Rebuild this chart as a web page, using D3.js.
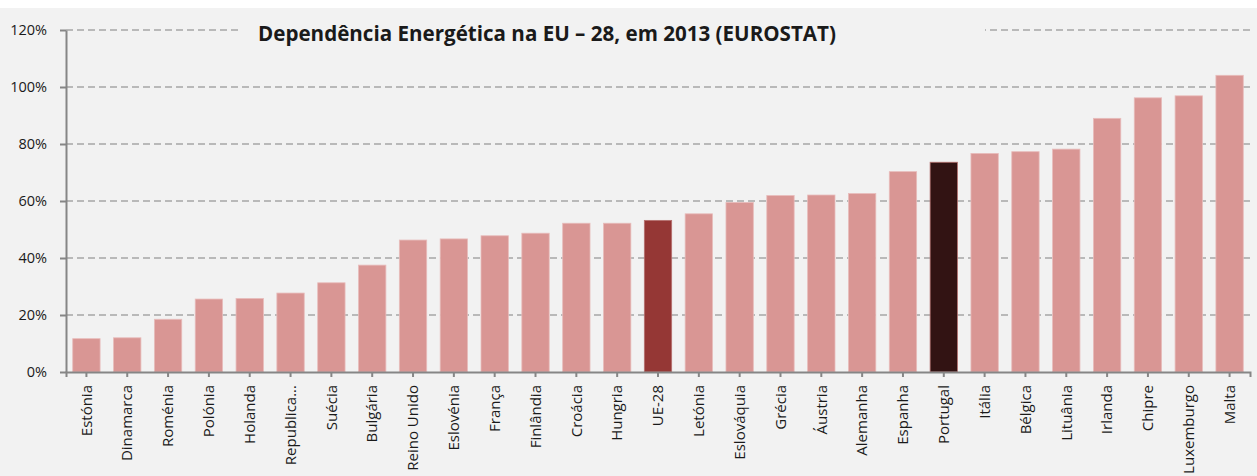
<!DOCTYPE html>
<html>
<head>
<meta charset="utf-8">
<script src="https://cdn.jsdelivr.net/npm/d3@7"></script>
<style>
  body { margin: 0; background: #fff; }
  text { font-family: "Open Sans", Lato, sans-serif; fill: #1a1a1a; }
</style>
</head>
<body>
<svg id="chart" width="1257" height="476"></svg>
<script>
const countries = ["Estónia", "Dinamarca", "Roménia", "Polónia", "Holanda", "Republica...", "Suécia",
  "Bulgária", "Reino Unido", "Eslovénia", "França", "Finlândia", "Croácia", "Hungria", "UE-28",
  "Letónia", "Eslováquia", "Grécia", "Áustria", "Alemanha", "Espanha", "Portugal", "Itália",
  "Bélgica", "Lituânia", "Irlanda", "Chipre", "Luxemburgo", "Malta"];
const dependence = [11.7, 12.0, 18.5, 25.6, 25.8, 27.7, 31.3, 37.5, 46.3, 46.7, 47.8, 48.7, 52.2, 52.2,
  53.2, 55.5, 59.5, 61.9, 62.1, 62.6, 70.3, 73.6, 76.7, 77.3, 78.2, 89.0, 96.2, 96.9, 104.1];
const yTicks = [0, 20, 40, 60, 80, 100, 120];
const highlight = { "UE-28": "#953735", "Portugal": "#321313" };
const title = "Dependência Energética na EU – 28, em 2013 (EUROSTAT)";

const svg = d3.select("#chart"),
  width = +svg.attr("width"),
  height = +svg.attr("height");

const plotLeft = 66, plotRight = 1250, plotTop = 30, plotBottom = 372;

svg.append("rect")
  .attr("x", 0).attr("y", 8)
  .attr("width", width).attr("height", height - 8)
  .attr("fill", "#f2f2f2");

const x = d3.scaleBand()
  .domain(countries)
  .range([plotLeft, plotRight])
  .paddingInner(0.33)
  .paddingOuter(0.165);

const y = d3.scaleLinear()
  .domain([0, 120])
  .range([plotBottom, plotTop]);

// gridlines
svg.append("g")
  .selectAll("line")
  .data(yTicks.filter(d => d > 0))
  .enter().append("line")
  .attr("x1", plotLeft).attr("x2", plotRight)
  .attr("y1", d => y(d)).attr("y2", d => y(d))
  .attr("stroke", "#a6a6a6")
  .attr("stroke-width", 1.3)
  .attr("stroke-dasharray", "7,4");

// bars
svg.append("g")
  .selectAll("rect")
  .data(countries)
  .enter().append("rect")
  .attr("x", d => x(d))
  .attr("width", x.bandwidth())
  .attr("y", (d, i) => y(dependence[i]))
  .attr("height", (d, i) => y(0) - y(dependence[i]))
  .attr("fill", d => highlight[d] || "#d99694")
  .attr("stroke", d => highlight[d] ? "#b77270" : "#e8bcbb")
  .attr("stroke-width", 0.8);

// y axis
const yAxis = svg.append("g")
  .attr("transform", `translate(${plotLeft},0)`)
  .call(d3.axisLeft(y).tickValues(yTicks).tickSize(6).tickSizeOuter(0).tickPadding(13)
    .tickFormat(d => d + "%"));
yAxis.select(".domain").attr("stroke", "#868686").attr("stroke-width", 2);
yAxis.selectAll(".tick line").attr("stroke", "#868686").attr("stroke-width", 2);
yAxis.selectAll(".tick text").attr("font-size", 14.5).attr("fill", "#1a1a1a")
  .style("font-family", "'Open Sans', sans-serif");

// x axis
const xAxis = svg.append("g")
  .attr("transform", `translate(0,${plotBottom})`)
  .call(d3.axisBottom(x).tickSize(5).tickSizeOuter(5).tickPadding(8));
xAxis.select(".domain").attr("stroke", "#868686").attr("stroke-width", 2);
xAxis.selectAll(".tick line").attr("stroke", "#868686").attr("stroke-width", 2);
xAxis.selectAll(".tick text")
  .attr("font-size", 15)
  .attr("fill", "#1a1a1a")
  .style("font-family", "'Open Sans', sans-serif")
  .attr("text-anchor", "end")
  .attr("dy", "0.35em")
  .attr("transform", "translate(0,13) rotate(-90)")
  .attr("x", 0).attr("y", 0);

// title with backing box over the top gridline
svg.append("rect")
  .attr("x", 240).attr("y", 18)
  .attr("width", 745).attr("height", 30)
  .attr("fill", "#f2f2f2");

const titleText = svg.append("text")
  .attr("x", 547).attr("y", 41)
  .attr("text-anchor", "middle")
  .attr("font-size", 19)
  .attr("font-weight", "bold")
  .attr("fill", "#000")
  .text(title);
// fit the title to the width it takes in the original
const tw = titleText.node().getComputedTextLength();
titleText.attr("font-size", 19 * 578 / tw);
</script>
</body>
</html>
